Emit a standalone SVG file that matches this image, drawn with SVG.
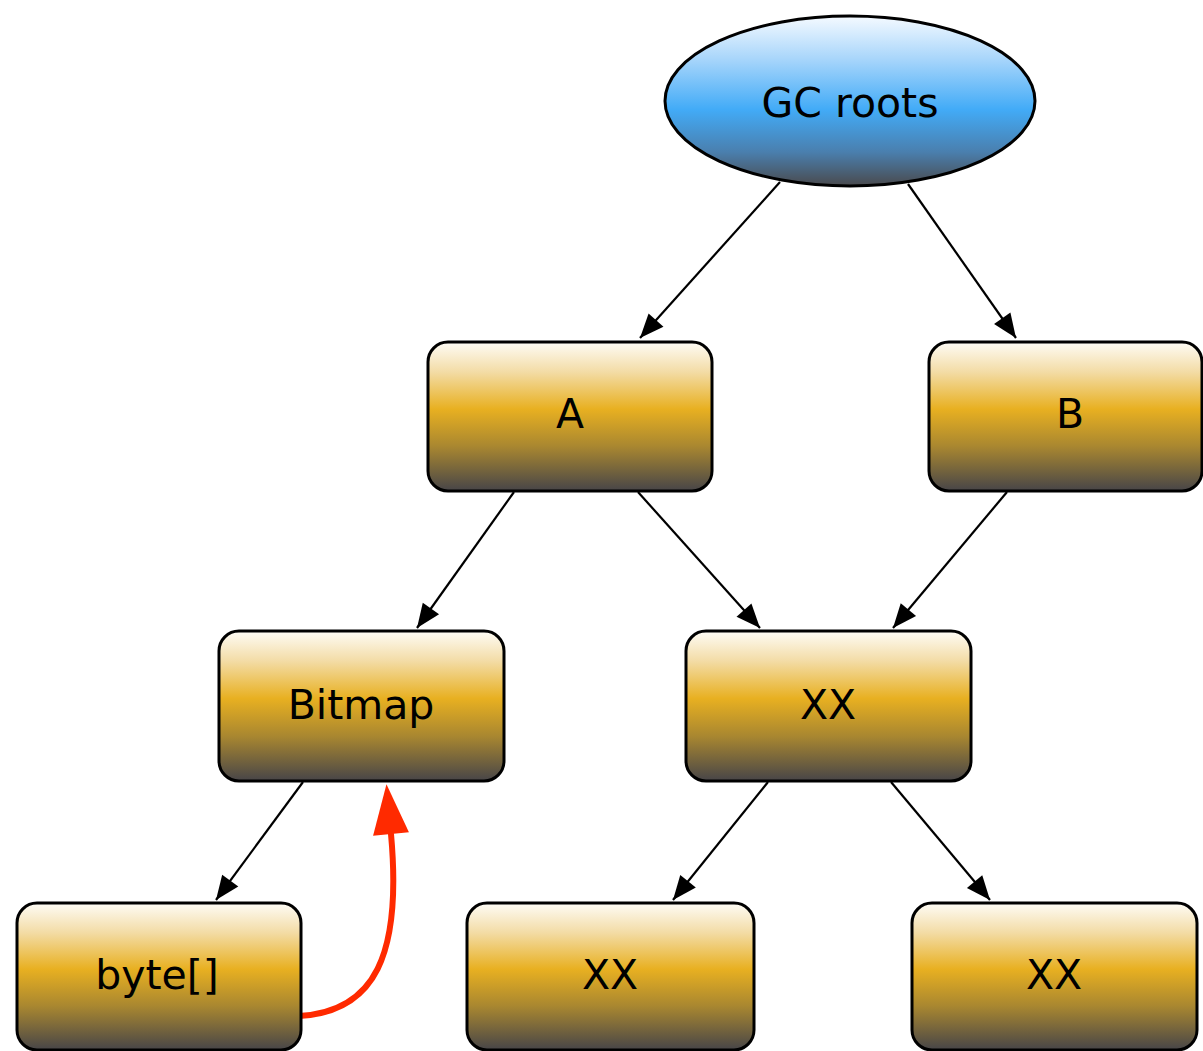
<svg xmlns="http://www.w3.org/2000/svg" width="1203" height="1051" viewBox="0 0 1203 1051">
<defs>
<linearGradient id="gold" x1="0" y1="0" x2="0" y2="1">
<stop offset="0" stop-color="#fefcf6"/>
<stop offset="0.2" stop-color="#f3dca6"/>
<stop offset="0.45" stop-color="#e8b021"/>
<stop offset="0.7" stop-color="#a98730"/>
<stop offset="1" stop-color="#474548"/>
</linearGradient>
<linearGradient id="blue" x1="0" y1="0" x2="0" y2="1">
<stop offset="0" stop-color="#f5faff"/>
<stop offset="0.25" stop-color="#a9d6fb"/>
<stop offset="0.55" stop-color="#42abf7"/>
<stop offset="0.8" stop-color="#4a7fae"/>
<stop offset="1" stop-color="#4a4a4d"/>
</linearGradient>
<marker id="ah" markerUnits="userSpaceOnUse" markerWidth="24" markerHeight="20" refX="24" refY="10" orient="auto" overflow="visible">
<path d="M0,0 L24,10 L0,20 z" fill="#000"/>
</marker>
<marker id="ahr" markerUnits="userSpaceOnUse" markerWidth="50" markerHeight="40" refX="0" refY="20" orient="auto" overflow="visible">
<path d="M0,2 L50,20 L0,38 z" fill="#ff2a00"/>
</marker>
<style>
.box{fill:url(#gold);stroke:#000;stroke-width:3}
.ell{fill:url(#blue);stroke:#000;stroke-width:3}
.lbl{font-family:"DejaVu Sans","Liberation Sans",sans-serif;font-size:41px;fill:#000;text-anchor:middle;dominant-baseline:central}
.edge{stroke:#000;stroke-width:2.2;fill:none;marker-end:url(#ah)}
.red{stroke:#ff2a00;stroke-width:6;fill:none;stroke-linecap:round;marker-end:url(#ahr)}
</style>
</defs>
<g id="connectors">
<line class="edge" x1="780" y1="182" x2="640" y2="338"/>
<line class="edge" x1="908" y1="184" x2="1016" y2="338"/>
<line class="edge" x1="514" y1="492" x2="417" y2="628"/>
<line class="edge" x1="638" y1="492" x2="760" y2="628"/>
<line class="edge" x1="1007" y1="492" x2="893" y2="628"/>
<line class="edge" x1="303" y1="782" x2="216" y2="900"/>
<line class="edge" x1="768" y1="782" x2="673" y2="900"/>
<line class="edge" x1="891" y1="782" x2="990" y2="900"/>
<path class="red" d="M299,1016 C375,1012 402,955 391,834"/>
</g>
<g id="gcroots">
<ellipse class="ell" cx="850" cy="101" rx="185" ry="85"/>
<text class="lbl" x="850" y="103">GC roots</text>
</g>
<g id="A">
<rect class="box" x="428" y="342" width="284" height="149" rx="20"/>
<text class="lbl" x="570" y="414">A</text>
</g>
<g id="B">
<rect class="box" x="929" y="342" width="273" height="149" rx="20"/>
<text class="lbl" x="1070" y="414">B</text>
</g>
<g id="Bitmap">
<rect class="box" x="219" y="631" width="285" height="150" rx="20"/>
<text class="lbl" x="361" y="705">Bitmap</text>
</g>
<g id="XX1">
<rect class="box" x="686" y="631" width="285" height="150" rx="20"/>
<text class="lbl" x="828" y="705">XX</text>
</g>
<g id="byte">
<rect class="box" x="17" y="903" width="284" height="147" rx="20"/>
<text class="lbl" x="157" y="975">byte[]</text>
</g>
<g id="XX2">
<rect class="box" x="467" y="903" width="287" height="147" rx="20"/>
<text class="lbl" x="610" y="975">XX</text>
</g>
<g id="XX3">
<rect class="box" x="912" y="903" width="285" height="147" rx="20"/>
<text class="lbl" x="1054" y="975">XX</text>
</g>
</svg>
